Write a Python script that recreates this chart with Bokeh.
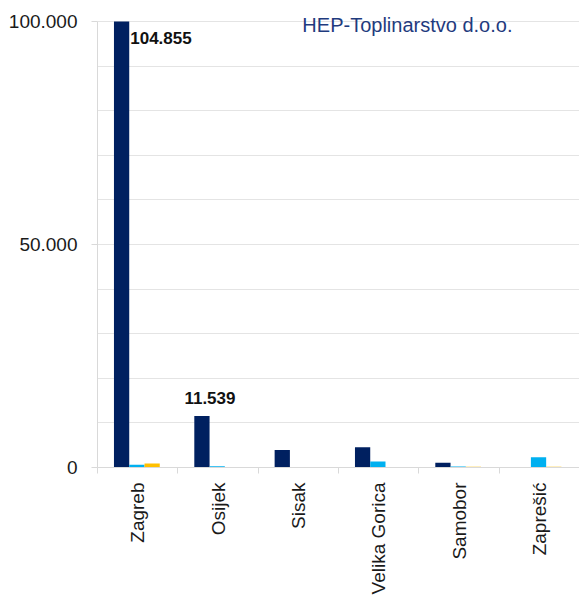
import numpy as np
from bokeh.plotting import figure
from bokeh.models import Range1d, FixedTicker, Label, ColumnDataSource
from bokeh.embed import file_html
from bokeh.resources import INLINE

# ---- data ----
cities = ["Zagreb", "Osijek", "Sisak", "Velika Gorica", "Samobor", "Zaprešić"]
series_dark = [104855, 11539, 3950, 4550, 1050, 0]
series_cyan = [600, 300, 0, 1350, 250, 2300]
series_yellow = [900, 0, 0, 0, 150, 150]
y_ticks = [0, 50000, 100000]
y_tick_labels = ["0", "50.000", "100.000"]
title_text = "HEP-Toplinarstvo d.o.o."
label_values = {"Zagreb": "104.855", "Osijek": "11.539"}

NAVY = "#002060"
CYAN = "#00B0F0"
YELLOW = "#FFC000"
FONT = "Liberation Sans"
YMAX = 100000          # axis maximum (bars are cut there, as in the original)
FRAME_TOP = 0
FRAME_BOTTOM = 467
Y100_PX = 21           # pixel row of the axis maximum
y_view_top = YMAX * (FRAME_BOTTOM - FRAME_TOP) / (FRAME_BOTTOM - Y100_PX)

n = len(cities)
p = figure(width=579, height=597, output_backend="svg", toolbar_location=None,
           x_range=Range1d(0, n), y_range=Range1d(0, y_view_top),
           min_border_left=97, min_border_right=0, min_border_top=FRAME_TOP,
           min_border_bottom=597 - FRAME_BOTTOM)
p.outline_line_color = None
p.background_fill_color = "white"

idx = np.arange(n)
bw = 0.19
centers = idx + 0.49
offsets = [-bw, 0.0, bw]
colors = [NAVY, CYAN, YELLOW]
for vals, off, col in zip([series_dark, series_cyan, series_yellow], offsets, colors):
    src = ColumnDataSource(dict(x=centers + off, top=np.minimum(vals, YMAX)))
    p.vbar(x="x", top="top", width=bw, bottom=0, source=src,
           fill_color=col, line_color=None)

# grid
p.xgrid.visible = False
p.ygrid.ticker = FixedTicker(ticks=list(range(0, YMAX + 1, 10000)))
p.ygrid.grid_line_color = "#e4e4e4"
p.ygrid.grid_line_width = 1

# y axis
p.yaxis.bounds = (0, YMAX)
p.yaxis.ticker = FixedTicker(ticks=y_ticks, minor_ticks=[])
p.yaxis.major_label_overrides = {t: l for t, l in zip(y_ticks, y_tick_labels)}
p.yaxis.axis_line_color = "#d9d9d9"
p.yaxis.major_tick_line_color = "#d9d9d9"
p.yaxis.major_tick_out = 6
p.yaxis.major_tick_in = 0
p.yaxis.minor_tick_line_color = None
p.yaxis.major_label_standoff = 14
p.yaxis.major_label_text_font = FONT
p.yaxis.major_label_text_font_size = "19px"
p.yaxis.major_label_text_color = "#1a1a1a"

# x axis: labels at centers, ticks at boundaries
p.xaxis.ticker = FixedTicker(ticks=list(idx + 0.5), minor_ticks=list(range(0, n + 1)))
p.xaxis.major_label_overrides = {float(i + 0.5): c for i, c in enumerate(cities)}
p.xaxis.major_label_orientation = np.pi / 2
p.xaxis.axis_line_color = "#d9d9d9"
p.xaxis.major_tick_line_color = None
p.xaxis.major_tick_out = 6
p.xaxis.major_tick_in = 0
p.xaxis.minor_tick_line_color = "#d9d9d9"
p.xaxis.minor_tick_out = 6
p.xaxis.minor_tick_in = 0
p.xaxis.major_label_standoff = 9
p.xaxis.major_label_text_font = FONT
p.xaxis.major_label_text_font_size = "19px"
p.xaxis.major_label_text_color = "#1a1a1a"

# value labels
i0 = cities.index("Zagreb")
p.add_layout(Label(x=centers[i0] + offsets[0] + bw / 2, y=min(series_dark[i0], YMAX),
                   text=label_values["Zagreb"], text_align="left", text_baseline="top",
                   x_offset=1, y_offset=-10, text_font=FONT, text_font_size="17px",
                   text_font_style="bold", text_color="#111111"))
i1 = cities.index("Osijek")
p.add_layout(Label(x=centers[i1] + offsets[0], y=series_dark[i1],
                   text=label_values["Osijek"], text_align="center", text_baseline="bottom",
                   x_offset=8, y_offset=12, text_font=FONT, text_font_size="17px",
                   text_font_style="bold", text_color="#111111"))

# title inside plot
p.add_layout(Label(x=2.55, y=YMAX, text=title_text, text_align="left",
                   text_baseline="middle", y_offset=-3, text_font=FONT,
                   text_font_size="20px", text_color="#1F3B7E"))

open("out.html", "w").write(file_html(p, INLINE))
